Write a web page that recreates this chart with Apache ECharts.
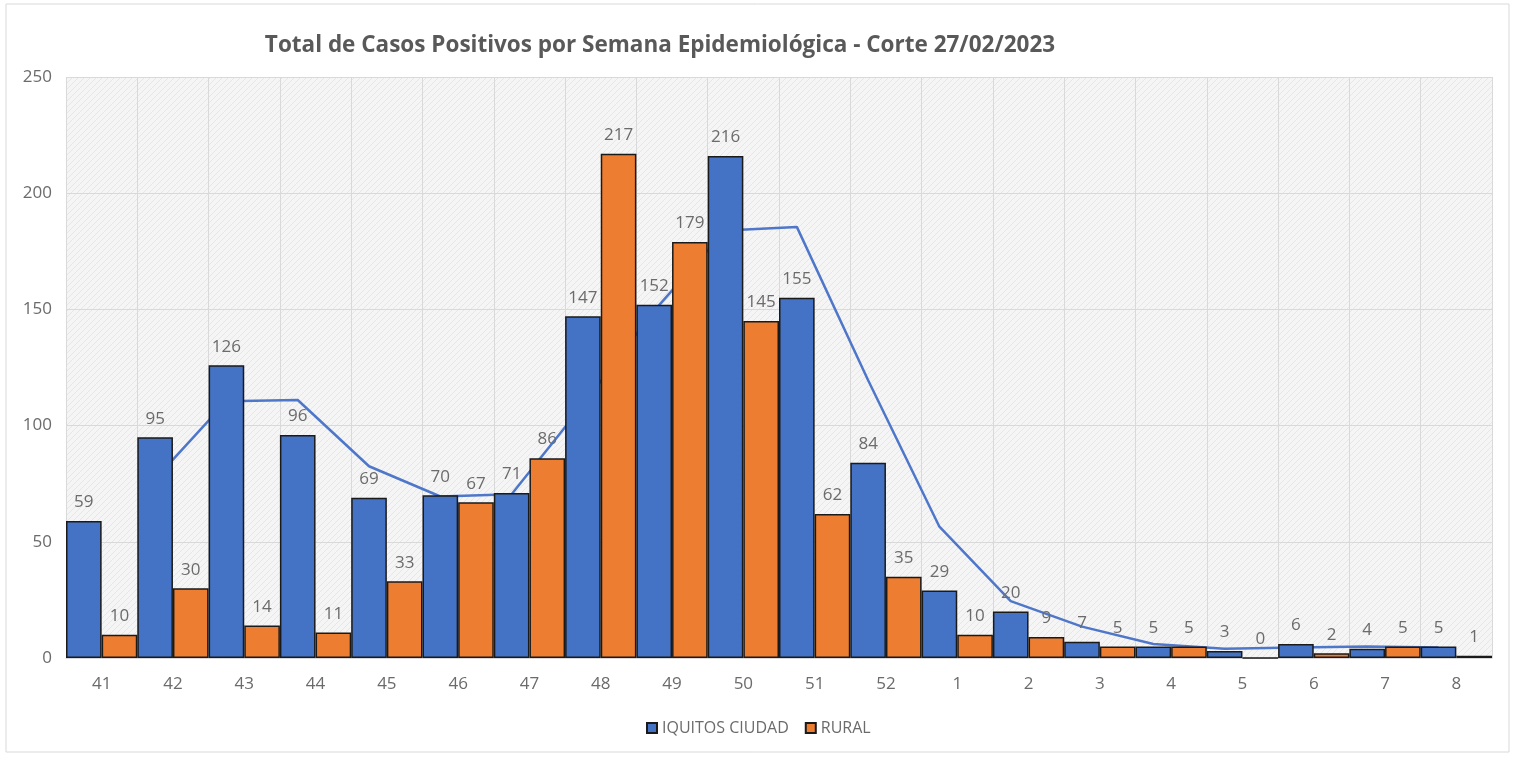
<!DOCTYPE html>
<html>
<head>
<meta charset="utf-8">
<script src="https://cdn.jsdelivr.net/npm/echarts@6/dist/echarts.min.js"></script>
<style>
  html, body { margin: 0; padding: 0; background: #fff; }
  #main { width: 1519px; height: 760px; }
</style>
</head>
<body>
<div id="main"></div>
<script>
// semanas epidemiologicas
const weeks = ["41", "42", "43", "44", "45", "46", "47", "48", "49", "50", "51", "52", "1", "2", "3", "4", "5", "6", "7", "8"];
const iquitos = [59, 95, 126, 96, 69, 70, 71, 147, 152, 216, 155, 84, 29, 20, 7, 5, 3, 6, 4, 5];
const rural = [10, 30, 14, 11, 33, 67, 86, 217, 179, 145, 62, 35, 10, 9, 5, 5, 0, 2, 5, 1];
// media movil (2 periodos) de IQUITOS CIUDAD, como la linea de tendencia de Excel
const trend = [null, 77, 110.5, 111, 82.5, 69.5, 70.5, 109, 149.5, 184, 185.5, 119.5, 56.5, 24.5, 13.5, 6, 4, 4.5, 5, 4.5];
const yTicks = [0, 50, 100, 150, 200, 250];

const chartDom = document.getElementById("main");
const myChart = echarts.init(chartDom);

// fondo rayado del area de trazado
const pat = document.createElement("canvas");
pat.width = 6;
pat.height = 6;
const pctx = pat.getContext("2d");
pctx.fillStyle = "#f5f5f5";
pctx.fillRect(0, 0, 6, 6);
pctx.strokeStyle = "#e6e6e6";
pctx.lineWidth = 1;
pctx.beginPath();
pctx.moveTo(0, 6);
pctx.lineTo(6, 0);
pctx.stroke();

// la linea va en el centro de la barra azul: eje oculto con dos huecos por semana
const slots = [];
const trendSlots = [];
weeks.forEach((w, i) => {
  slots.push(w + "a", w + "b");
  trendSlots.push(trend[i], null);
});

const titleColor = "#595959";
const textColor = "#6b6b6b";
const font = "'Open Sans', sans-serif";

const option = {
  animation: false,
  backgroundColor: "#fff",
  textStyle: { fontFamily: font },
  title: {
    text: "Total de Casos Positivos por Semana Epidemiológica - Corte 27/02/2023",
    left: 655,
    top: 29,
    textAlign: "center",
    textStyle: { color: titleColor, fontSize: 22.5, fontWeight: "bold", fontFamily: font },
  },
  graphic: [
    {
      type: "rect",
      shape: { x: 6, y: 4, width: 1503, height: 748 },
      style: { fill: "none", stroke: "#d9d9d9", lineWidth: 1 },
      silent: true,
    },
  ],
  legend: {
    bottom: 19,
    left: 641,
    itemWidth: 10,
    itemHeight: 10,
    itemGap: 16,
    icon: "rect",
    textStyle: { color: textColor, fontSize: 16, fontFamily: font },
    data: ["IQUITOS CIUDAD", "RURAL"],
  },
  grid: {
    left: 66,
    right: 27,
    top: 77,
    bottom: 102,
    show: true,
    borderWidth: 0,
    backgroundColor: { image: pat, repeat: "repeat" },
  },
  xAxis: [
    {
      type: "category",
      data: weeks,
      axisTick: { show: false },
      axisLine: { show: true, lineStyle: { color: "#d9d9d9" } },
      axisLabel: { color: textColor, fontSize: 17, margin: 18 },
      splitLine: { show: true, lineStyle: { color: "#d9d9d9" } },
    },
    {
      type: "category",
      data: slots,
      show: false,
      position: "bottom",
    },
  ],
  yAxis: {
    type: "value",
    min: yTicks[0],
    max: yTicks[yTicks.length - 1],
    interval: 50,
    axisLine: { show: false },
    axisTick: { show: false },
    axisLabel: { color: textColor, fontSize: 17, margin: 14 },
    splitLine: { lineStyle: { color: "#d9d9d9" } },
  },
  series: [
    {
      name: "tendencia",
      type: "line",
      xAxisIndex: 1,
      data: trendSlots,
      connectNulls: true,
      symbol: "none",
      z: 1,
      lineStyle: { color: "#4f77c9", width: 2.5 },
    },
    {
      name: "IQUITOS CIUDAD",
      type: "bar",
      data: iquitos,
      barGap: "0%",
      barCategoryGap: "0%",
      z: 2,
      itemStyle: { color: "#4472c4", borderColor: "#1a1a1a", borderWidth: 1.5 },
      label: { show: true, position: "top", distance: 10, color: textColor, fontSize: 17 },
    },
    {
      name: "RURAL",
      type: "bar",
      data: rural,
      barGap: "0%",
      barCategoryGap: "0%",
      z: 2,
      itemStyle: { color: "#ed7d31", borderColor: "#1a1a1a", borderWidth: 1.5 },
      label: { show: true, position: "top", distance: 10, color: textColor, fontSize: 17 },
    },
  ],
};

option && myChart.setOption(option);
</script>
</body>
</html>
